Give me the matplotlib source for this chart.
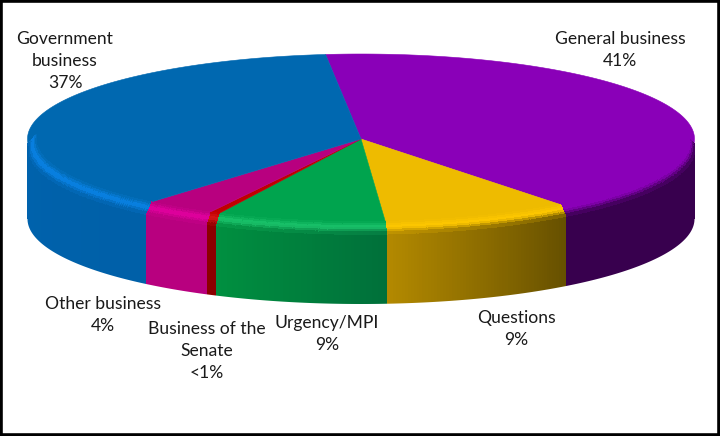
import numpy as np
import matplotlib
matplotlib.use("Agg")
import matplotlib.pyplot as plt
from matplotlib.collections import PolyCollection
from matplotlib.colors import to_rgb
from matplotlib.patches import Rectangle, Polygon

# share of time, clockwise from the back of the pie
categories = ["General business", "Questions", "Urgency/MPI", "Business of the Senate", "Other business", "Government business"]
shares = [41.2, 9.3, 8.4, 0.5, 3.5, 37.1]
label_text = ["General business\n41%", "Questions\n9%", "Urgency/MPI\n9%", "Business of the\nSenate\n<1%", "Other business\n4%", "Government\nbusiness\n37%"]
label_x = [620, 516, 327, 207, 103, 65]
label_top = [31, 310, 315, 321, 296, 31]

top_colors = ["#8a00b8", "#eebb00", "#00a44e", "#c00000", "#b8007f", "#0068b0"]
rim_colors = ["#8a00b8", "#ffc800", "#1cc46c", "#d81818", "#e400a0", "#0a84e8"]
wall_left = ["#38004e", "#b48a00", "#009040", "#8c0000", "#b8007f", "#0066b4"]
wall_right = ["#38004e", "#665000", "#00703a", "#8c0000", "#b8007f", "#0060a8"]

CX, CY = 361, 139
RX, RY = 333.5, 85
INSET = 0.975
BEVEL = 10
DEPTH = 80
START_ANGLE = 96.1


def point(t, r=1.0, dz=0.0):
    return CX + r * RX * np.cos(t), CY - r * RY * np.sin(t) + dz


def mix(a, b, f):
    return tuple((1 - f) * np.array(to_rgb(a)) + f * np.array(to_rgb(b)))


fig = plt.figure(figsize=(7.2, 4.36), dpi=100)
ax = fig.add_axes([0, 0, 1, 1])
ax.set_xlim(0, 720)
ax.set_ylim(436, 0)
ax.axis("off")

edges = START_ANGLE - np.cumsum([0] + shares) * 3.6

for i, cat in enumerate(categories):
    a0, a1 = np.radians(edges[i]), np.radians(edges[i + 1])
    ts = np.linspace(a0, a1, max(int(abs(edges[i] - edges[i + 1]) * 2), 4))

    # top face
    xs, ys = point(ts, 1.0)
    ax.add_patch(Polygon(np.column_stack([np.r_[CX, xs], np.r_[CY, ys]]), closed=True,
                         fc=top_colors[i], ec=top_colors[i], lw=0.4, zorder=2))

    polys, cols = [], []
    for j in range(len(ts) - 1):
        t0, t1 = ts[j], ts[j + 1]
        if np.sin((t0 + t1) / 2) > 0.05:
            continue
        x_frac = j / (len(ts) - 1)
        wall_c = mix(wall_right[i], wall_left[i], x_frac)

        # outer wall
        polys.append([point(t0, 1.0, BEVEL), point(t1, 1.0, BEVEL), point(t1, 1.0, DEPTH), point(t0, 1.0, DEPTH)])
        cols.append(wall_c)

        # bevel between the top face and the wall
        for k in range(6):
            u0, u1 = k / 6, (k + 1) / 6
            r0, r1 = INSET + (1 - INSET) * u0, INSET + (1 - INSET) * u1
            polys.append([point(t0, r0, BEVEL * u0), point(t1, r0, BEVEL * u0),
                          point(t1, r1, BEVEL * u1), point(t0, r1, BEVEL * u1)])
            mid = (u0 + u1) / 2
            if mid < 0.5:
                c = mix(top_colors[i], rim_colors[i], mid / 0.5)
            else:
                c = mix(rim_colors[i], wall_c, (mid - 0.5) / 0.5)
            cols.append(c)
    # no antialiasing here, the strips would show seams
    ax.add_collection(PolyCollection(polys, facecolors=cols, edgecolors="face", linewidths=0.4,
                                     antialiaseds=False, zorder=3))

# white mask gives a clean lower edge
tb = np.radians(np.linspace(180, 360, 400))
bx, by = point(tb, 1.0, DEPTH)
ax.add_patch(Polygon(np.column_stack([np.r_[bx[0] - 3, bx, bx[-1] + 3, bx[-1] + 3, bx[0] - 3],
                                      np.r_[by[0], by, by[-1], 400, 400]]),
                     closed=True, fc="white", ec="none", zorder=4))

for i in range(len(categories)):
    ax.text(label_x[i], label_top[i], label_text[i], ha="center", va="top", fontsize=12.6,
            family="Lato", color="#1a1a1a", linespacing=1.47, zorder=5)

ax.add_patch(Rectangle((1, 1), 718, 434, fc="none", ec="black", lw=2.6, zorder=6))

fig.savefig("out.png", dpi=100, facecolor="white")
